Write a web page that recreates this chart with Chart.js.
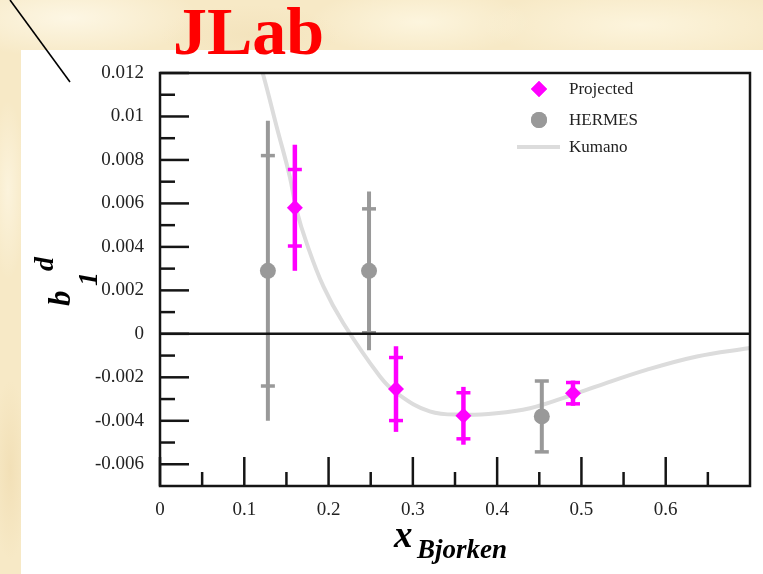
<!DOCTYPE html>
<html>
<head>
<meta charset="utf-8">
<script src="https://cdn.jsdelivr.net/npm/chart.js@4.4.1/dist/chart.umd.min.js"></script>
<style>
  html, body { margin: 0; padding: 0; }
  body {
    width: 763px; height: 574px; overflow: hidden; position: relative;
    background:
      radial-gradient(ellipse 130px 40px at 70px 18px, rgba(255,251,238,0.75), rgba(255,251,238,0)),
      radial-gradient(ellipse 110px 35px at 420px 22px, rgba(255,250,232,0.7), rgba(255,250,232,0)),
      radial-gradient(ellipse 160px 38px at 640px 25px, rgba(255,249,230,0.7), rgba(255,249,230,0)),
      radial-gradient(ellipse 18px 90px at 8px 190px, rgba(255,250,235,0.6), rgba(255,250,235,0)),
      radial-gradient(ellipse 18px 90px at 10px 470px, rgba(238,216,170,0.55), rgba(238,216,170,0)),
      radial-gradient(ellipse 90px 30px at 250px 35px, rgba(240,222,180,0.5), rgba(240,222,180,0)),
      #F7E9C6;
  }
  #panel { position: absolute; left: 21px; top: 50px; width: 742px; height: 524px; background: #ffffff; }
  #title {
    position: absolute; left: 173px; top: -3px; margin: 0;
    font: bold 68px "Liberation Serif", "Times New Roman", serif; line-height: 1;
    color: #ff0000; white-space: nowrap;
  }
  #slash { position: absolute; left: 0; top: 0; }
  #chart { position: absolute; left: 0; top: 0; }
</style>
</head>
<body>
<div id="panel"></div>
<svg id="slash" width="80" height="90"><line x1="10" y1="0" x2="70" y2="82" stroke="#000" stroke-width="1.6"/></svg>
<div id="title">JLab</div>
<canvas id="chart" width="763" height="574"></canvas>
<script>
// Projected measurement: x, b1 value, statistical and total uncertainty
const projX    = [0.16, 0.28, 0.36, 0.49];
const projY    = [0.0058, -0.00254, -0.00377, -0.00273];
const projStat = [0.00176, 0.00145, 0.00106, 0.00049];
const projTot  = [0.0029, 0.00197, 0.00133, 0.00058];

// HERMES data points
const hermesX    = [0.128, 0.248, 0.453];
const hermesY    = [0.0029, 0.0029, -0.0038];
const hermesStat = [0.0053, 0.00285, 0.00163];
const hermesTot  = [0.0069, 0.00365, 0.00163];

// Kumano model curve
const kumanoX = [0.118, 0.1226, 0.1384, 0.154, 0.162, 0.174, 0.194, 0.2175, 0.261, 0.281,
                 0.320, 0.360, 0.399, 0.439, 0.478, 0.518, 0.577, 0.637, 0.698, 0.70];
const kumanoY = [0.0124, 0.0119, 0.00953, 0.00723, 0.0057, 0.00417, 0.00217, 0.00049, -0.00196, -0.00273,
                 -0.00357, -0.00372, -0.00365, -0.00342, -0.00296, -0.00242, -0.00166, -0.00104, -0.00066, -0.00065];

// Axis ticks
const xTickValues = [0, 0.1, 0.2, 0.3, 0.4, 0.5, 0.6];
const xTickLabels = ['0', '0.1', '0.2', '0.3', '0.4', '0.5', '0.6'];
const xMinorTicks = [0.05, 0.15, 0.25, 0.35, 0.45, 0.55, 0.65];
const yTickValues = [-0.006, -0.004, -0.002, 0, 0.002, 0.004, 0.006, 0.008, 0.01, 0.012];
const yTickLabels = ['-0.006', '-0.004', '-0.002', '0', '0.002', '0.004', '0.006', '0.008', '0.01', '0.012'];
const yMinorTicks = [-0.005, -0.003, -0.001, 0.001, 0.003, 0.005, 0.007, 0.009, 0.011];

const MAGENTA = '#ff00ff';
const GREY = '#999999';
const CURVE = '#dcdcdc';
const INK = '#151515';
const SERIF = '"Liberation Serif", "Times New Roman", serif';

const pts = (xs, ys) => xs.map((x, i) => ({ x: x, y: ys[i] }));

// error bars per dataset index
const errorBars = {
  0: { x: projX, y: projY, stat: projStat, tot: projTot, color: MAGENTA, width: 4.5 },
  1: { x: hermesX, y: hermesY, stat: hermesStat, tot: hermesTot, color: GREY, width: 4 }
};

const decor = {
  id: 'decor',
  beforeDatasetDraw(chart, args) {
    const eb = errorBars[args.index];
    if (!eb) return;
    const { ctx, scales: { x, y } } = chart;
    ctx.save();
    ctx.strokeStyle = eb.color;
    ctx.lineCap = 'butt';
    eb.x.forEach((xv, i) => {
      const px = x.getPixelForValue(xv);
      ctx.lineWidth = eb.width;
      ctx.beginPath();
      ctx.moveTo(px, y.getPixelForValue(eb.y[i] + eb.tot[i]));
      ctx.lineTo(px, y.getPixelForValue(eb.y[i] - eb.tot[i]));
      ctx.stroke();
      ctx.lineWidth = 3.5;
      [eb.y[i] + eb.stat[i], eb.y[i] - eb.stat[i]].forEach(v => {
        const py = y.getPixelForValue(v);
        ctx.beginPath();
        ctx.moveTo(px - 7, py);
        ctx.lineTo(px + 7, py);
        ctx.stroke();
      });
    });
    ctx.restore();
  },
  afterDatasetsDraw(chart) {
    const { ctx, chartArea: { left, right, top, bottom }, scales: { x, y } } = chart;
    ctx.save();
    ctx.strokeStyle = INK;
    ctx.lineWidth = 2.5;
    ctx.lineCap = 'butt';
    const seg = (x1, y1, x2, y2) => { ctx.beginPath(); ctx.moveTo(x1, y1); ctx.lineTo(x2, y2); ctx.stroke(); };
    // inward tick marks on the left and bottom axes
    yTickValues.forEach(v => { const py = y.getPixelForValue(v); seg(left, py, left + 29, py); });
    yMinorTicks.forEach(v => { const py = y.getPixelForValue(v); seg(left, py, left + 15, py); });
    xTickValues.forEach(v => { const px = x.getPixelForValue(v); seg(px, bottom, px, bottom - 29); });
    xMinorTicks.forEach(v => { const px = x.getPixelForValue(v); seg(px, bottom, px, bottom - 14); });
    // zero line
    const y0 = y.getPixelForValue(0);
    seg(left, y0, right, y0);
    // frame
    ctx.strokeRect(left, top, right - left, bottom - top);
    ctx.restore();
  },
  afterDraw(chart) {
    const { ctx } = chart;
    ctx.save();
    // legend
    const lx = 539, rows = [89, 120, 147];
    const dsets = chart.data.datasets;
    ctx.fillStyle = MAGENTA;
    Chart.helpers.drawPoint(ctx, { pointStyle: 'rectRot', radius: 8, borderWidth: 0 }, lx, rows[0]);
    ctx.fill();
    ctx.fillStyle = GREY;
    Chart.helpers.drawPoint(ctx, { pointStyle: 'circle', radius: 8, borderWidth: 0 }, lx, rows[1]);
    ctx.fill();
    ctx.strokeStyle = CURVE;
    ctx.lineWidth = 4;
    ctx.beginPath(); ctx.moveTo(517, rows[2]); ctx.lineTo(560, rows[2]); ctx.stroke();
    ctx.fillStyle = '#222';
    ctx.font = '17px ' + SERIF;
    ctx.textBaseline = 'middle';
    ctx.textAlign = 'left';
    dsets.forEach((d, i) => ctx.fillText(d.label, 569, rows[i] + 1));

    // y-axis title: b_1^d, rotated
    ctx.fillStyle = '#000';
    ctx.textBaseline = 'alphabetic';
    ctx.translate(70, 306);
    ctx.rotate(-Math.PI / 2);
    ctx.font = 'italic bold 31px ' + SERIF;
    ctx.fillText('b', 0, 0);
    ctx.font = 'italic bold 28px ' + SERIF;
    ctx.fillText('1', 20, 27);
    ctx.fillText('d', 35, -17);
    ctx.setTransform(1, 0, 0, 1, 0, 0);

    // x-axis title: x_Bjorken
    ctx.font = 'italic bold 37px ' + SERIF;
    ctx.fillText('x', 394, 547);
    ctx.font = 'italic bold 27px ' + SERIF;
    ctx.fillText('Bjorken', 417, 558);
    ctx.restore();
  }
};

new Chart(document.getElementById('chart'), {
  type: 'scatter',
  data: {
    datasets: [
      { label: 'Projected', data: pts(projX, projY), pointStyle: 'rectRot', pointRadius: 8,
        backgroundColor: MAGENTA, borderColor: MAGENTA, borderWidth: 0 },
      { label: 'HERMES', data: pts(hermesX, hermesY), pointStyle: 'circle', pointRadius: 8,
        backgroundColor: GREY, borderColor: GREY, borderWidth: 0 },
      { label: 'Kumano', data: pts(kumanoX, kumanoY), showLine: true, borderColor: CURVE, borderWidth: 4,
        pointRadius: 0, tension: 0.4, fill: false }
    ]
  },
  options: {
    responsive: false,
    animation: false,
    devicePixelRatio: 1,
    layout: { padding: { top: 73, right: 13, left: 0, bottom: 0 } },
    plugins: { legend: { display: false }, tooltip: { enabled: false } },
    scales: {
      x: {
        type: 'linear', min: 0, max: 0.7,
        afterBuildTicks: s => { s.ticks = xTickValues.map(v => ({ value: v })); },
        afterFit: s => { s.height = 88; },
        grid: { display: false, drawTicks: false },
        border: { display: false },
        ticks: {
          autoSkip: false, maxRotation: 0, padding: 13, color: '#222',
          font: { family: SERIF, size: 19 },
          callback: (v, i) => xTickLabels[i]
        }
      },
      y: {
        type: 'linear', min: -0.007, max: 0.012,
        afterBuildTicks: s => { s.ticks = yTickValues.map(v => ({ value: v })); },
        afterFit: s => { s.width = 160; },
        grid: { display: false, drawTicks: false },
        border: { display: false },
        ticks: {
          autoSkip: false, padding: 16, color: '#222',
          font: { family: SERIF, size: 19 },
          callback: (v, i) => yTickLabels[i]
        }
      }
    }
  },
  plugins: [decor]
});
</script>
</body>
</html>
